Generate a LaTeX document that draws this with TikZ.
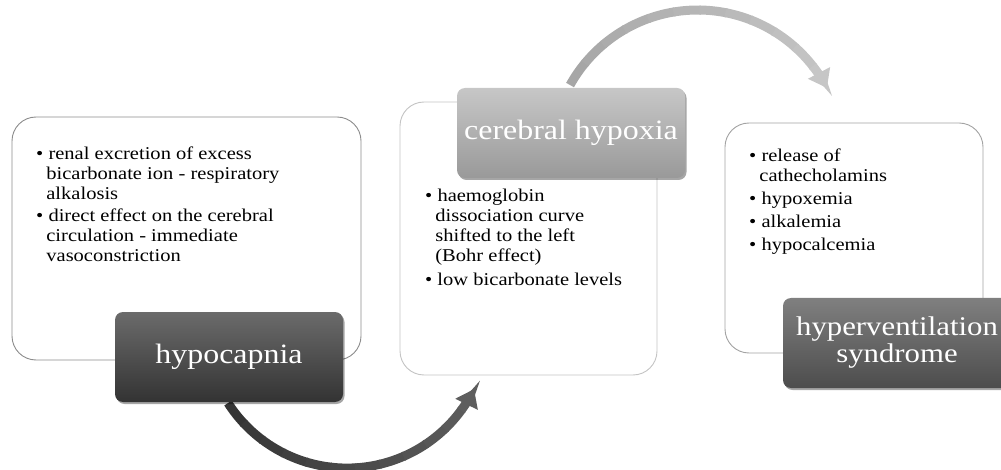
\documentclass[tikz,border=0pt]{standalone}
\usepackage{fontspec}
\setmainfont{Liberation Serif}[FakeStretch=1.14]
\usetikzlibrary{arrows.meta,shadows}
\begin{document}
\definecolor{edgeA}{HTML}{8C8C8C}
\definecolor{edgeB}{HTML}{C4C4C4}
\definecolor{darkA}{HTML}{353535}
\definecolor{darkB}{HTML}{5E5E5E}
\definecolor{liteA}{HTML}{A6A6A6}
\definecolor{liteB}{HTML}{C6C6C6}
\tikzset{
  panel/.style={draw=edgeA, line width=0.9pt, fill=white, rounded corners=24pt},
  titlebox/.style={rounded corners=8pt, minimum width=228pt, minimum height=90pt,
    text=white, font=\fontsize{28}{29}\selectfont, align=center,
    drop shadow={shadow xshift=1.5pt, shadow yshift=-2pt, opacity=0.35, fill=black}},
  bullets/.style={anchor=north west, align=left, inner sep=0pt,
    font=\fontsize{18}{20}\selectfont},
  arcseg/.style={line width=9pt},
}
\newcommand{\bitem}[1]{\textbullet\ #1}
\newcommand{\bcont}[1]{\hphantom{\textbullet}\,#1}
\begin{tikzpicture}[x=1pt,y=-1pt]
\useasboundingbox (0,0) rectangle (1001,470);
\begin{scope}
\clip (0,0) rectangle (1001,470);

% white panels holding the bullet lists
\node[panel, minimum width=349pt, minimum height=243pt] (p1) at (186.5,238.5) {};
\node[panel, draw=edgeB, minimum width=257pt, minimum height=273pt] (p2) at (528.5,238.5) {};
\node[panel, draw=edgeA!80!white, minimum width=258pt, minimum height=230pt] (p3) at (854,238) {};

% curved arrows (drawn in short pieces to grade the tone)
\coordinate (c1) at (347.1,326.6);
\coordinate (c2) at (697.7,156.1);
\foreach \i in {0,...,11}{
  \pgfmathsetmacro\aa{212.7+\i*(333.8-212.7)/12}
  \pgfmathsetmacro\ab{212.7+(\i+1)*(333.8-212.7)/12+(\i<11?0.6:0)}
  \pgfmathsetmacro\pc{100-\i*100/11}
  \ifnum\i<11
    \draw[arcseg, draw=darkA!\pc!darkB] ([shift={(\aa:141.5pt)}]c1) arc[start angle=\aa, end angle=\ab, radius=141.5pt];
  \else
    \draw[arcseg, draw=darkA!\pc!darkB, -{Triangle[length=17pt,width=24pt]}] ([shift={(\aa:141.5pt)}]c1) arc[start angle=\aa, end angle=\ab, radius=141.5pt];
  \fi
}
\foreach \i in {0,...,11}{
  \pgfmathsetmacro\aa{150.9-\i*(150.9-27.8)/12}
  \pgfmathsetmacro\ab{150.9-(\i+1)*(150.9-27.8)/12-(\i<11?0.6:0)}
  \pgfmathsetmacro\pc{100-\i*100/11}
  \ifnum\i<11
    \draw[arcseg, draw=liteA!\pc!liteB] ([shift={(\aa:146.1pt)}]c2) arc[start angle=\aa, end angle=\ab, radius=146.1pt];
  \else
    \draw[arcseg, draw=liteA!\pc!liteB, -{Triangle[length=17pt,width=24pt]}] ([shift={(\aa:146.1pt)}]c2) arc[start angle=\aa, end angle=\ab, radius=146.1pt];
  \fi
}

% title boxes
\node[titlebox, top color=black!58, bottom color=black!80] (hypo) at (229,357) {hypocapnia};
\node[titlebox, top color=black!22, bottom color=black!40] (cere) at (571,133) {cerebral hypoxia};
\node[titlebox, top color=black!50, bottom color=black!70,
  font=\fontsize{27}{27}\selectfont] (hyper) at (897,343) {hyperventilation\\syndrome};

% bullet lists
\node[bullets] (t1) at (36,147) {%
  \bitem{renal excretion of excess}\\
  \bcont{bicarbonate ion - respiratory}\\
  \bcont{alkalosis}\\[2pt]
  \bitem{direct effect on the cerebral}\\
  \bcont{circulation - immediate}\\
  \bcont{vasoconstriction}};
\node[bullets] (t2) at (425,189) {%
  \bitem{haemoglobin}\\
  \bcont{dissociation curve}\\
  \bcont{shifted to the left}\\
  \bcont{(Bohr effect)}\\[4pt]
  \bitem{low bicarbonate levels}};
\node[bullets] (t3) at (749,149) {%
  \bitem{release of}\\
  \bcont{cathecholamins}\\[3pt]
  \bitem{hypoxemia}\\[3pt]
  \bitem{alkalemia}\\[3pt]
  \bitem{hypocalcemia}};
\end{scope}
\end{tikzpicture}
\end{document}
